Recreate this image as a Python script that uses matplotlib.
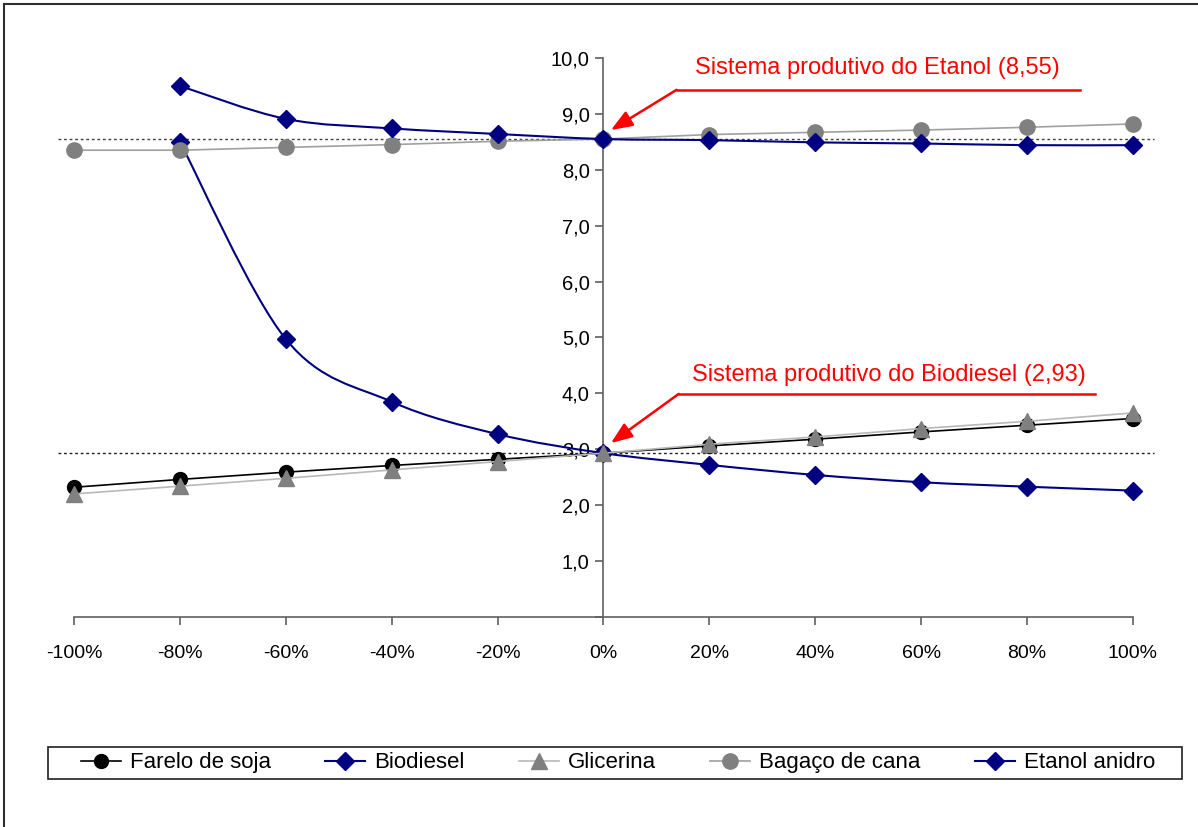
import matplotlib
matplotlib.use("Agg")
import matplotlib.pyplot as plt
from matplotlib.path import Path
from matplotlib.patches import PathPatch, Rectangle
from matplotlib.lines import Line2D
from matplotlib.ticker import FuncFormatter, MultipleLocator

# --- DATA ---
variacao = [-100, -80, -60, -40, -20, 0, 20, 40, 60, 80, 100]
farelo = [2.32, 2.46, 2.59, 2.71, 2.82, 2.93, 3.06, 3.18, 3.31, 3.43, 3.55]
biodiesel = [None, 8.50, 4.97, 3.85, 3.27, 2.93, 2.72, 2.54, 2.41, 2.33, 2.26]
glicerina = [2.20, 2.34, 2.48, 2.63, 2.78, 2.93, 3.09, 3.22, 3.37, 3.50, 3.65]
bagaco = [8.35, 8.35, 8.40, 8.45, 8.51, 8.55, 8.63, 8.67, 8.71, 8.76, 8.82]
etanol = [None, 9.50, 8.91, 8.74, 8.64, 8.55, 8.53, 8.49, 8.47, 8.44, 8.44]

ref_etanol = 8.55
ref_biodiesel = 2.93
labels = ["Farelo de soja", "Biodiesel", "Glicerina", "Bagaço de cana", "Etanol anidro"]

plt.rcParams['font.family'] = ['Liberation Sans', 'DejaVu Sans']

NAVY = "#000080"
GRAY = "#808080"


def smooth_path(xs, ys):
    # Excel-like smoothed line: cubic bezier through points (Catmull-Rom, 1/6 tension)
    pts = [(x, y) for x, y in zip(xs, ys) if y is not None]
    verts = [pts[0]]
    codes = [Path.MOVETO]
    n = len(pts)
    for i in range(n - 1):
        p0 = pts[i - 1] if i > 0 else pts[i]
        p1 = pts[i]
        p2 = pts[i + 1]
        p3 = pts[i + 2] if i + 2 < n else pts[i + 1]
        c1 = (p1[0] + (p2[0] - p0[0]) / 6, p1[1] + (p2[1] - p0[1]) / 6)
        c2 = (p2[0] - (p3[0] - p1[0]) / 6, p2[1] - (p3[1] - p1[1]) / 6)
        verts += [c1, c2, p2]
        codes += [Path.CURVE4] * 3
    return Path(verts, codes)


fig = plt.figure(figsize=(11.98, 8.27), dpi=100)
ax = fig.add_axes([0.0618, 0.254, 0.8839, 0.6759])

# reference lines
ax.plot([-103, 104], [ref_etanol, ref_etanol], ls=(0, (2, 2)), color="#404040", lw=1, clip_on=False, zorder=1)
ax.plot([-103, 104], [ref_biodiesel, ref_biodiesel], ls=(0, (2, 2)), color="#202020", lw=1, clip_on=False, zorder=1)

# Farelo de soja
ax.plot(variacao, farelo, color="black", lw=1.2, marker="o", ms=10, mfc="black", mec="black",
        clip_on=False, zorder=3)

# Biodiesel (smoothed)
ax.add_patch(PathPatch(smooth_path(variacao, biodiesel), fill=False, edgecolor=NAVY, lw=1.5, zorder=3))
xb = [x for x, y in zip(variacao, biodiesel) if y is not None]
yb = [y for y in biodiesel if y is not None]
ax.plot(xb, yb, ls="none", marker="D", ms=9, color=NAVY, clip_on=False, zorder=4)

# Glicerina
ax.plot(variacao, glicerina, color="#b8b8b8", lw=1.2, marker="^", ms=11, mfc=GRAY, mec=GRAY,
        clip_on=False, zorder=5)

# Bagaco de cana
ax.plot(variacao, bagaco, color="#a0a0a0", lw=1.2, marker="o", ms=11, mfc=GRAY, mec=GRAY,
        clip_on=False, zorder=5)

# Etanol anidro (smoothed)
ax.add_patch(PathPatch(smooth_path(variacao, etanol), fill=False, edgecolor=NAVY, lw=1.5, zorder=6))
xe = [x for x, y in zip(variacao, etanol) if y is not None]
ye = [y for y in etanol if y is not None]
ax.plot(xe, ye, ls="none", marker="D", ms=9, color=NAVY, clip_on=False, zorder=7)

# axes
ax.set_xlim(-100, 100)
ax.set_ylim(0, 10)
ax.spines['left'].set_position(('data', 0))
ax.spines['bottom'].set_position(('data', 0))
ax.spines['top'].set_visible(False)
ax.spines['right'].set_visible(False)
for s in ['left', 'bottom']:
    ax.spines[s].set_color("#606060")
    ax.spines[s].set_linewidth(1.2)
ax.xaxis.set_major_locator(MultipleLocator(20))
ax.yaxis.set_major_locator(MultipleLocator(1))
ax.xaxis.set_major_formatter(FuncFormatter(lambda v, p: "%d%%" % round(v)))
ax.yaxis.set_major_formatter(FuncFormatter(lambda v, p: "" if abs(v) < 1e-9 else ("%.1f" % v).replace(".", ",")))
ax.tick_params(axis="both", direction="out", length=6, width=1.2, color="#606060")
ax.tick_params(axis="x", pad=14, labelsize=14)
ax.tick_params(axis="y", pad=4, labelsize=14.5)

# annotations
arrow = dict(arrowstyle="-|>,head_length=1.3,head_width=0.5", color="red", lw=1.8, shrinkA=0, shrinkB=0)
ax.annotate("", xy=(1.4, 8.71), xytext=(13.8, 9.43), arrowprops=arrow, zorder=8)
ax.plot([13.8, 90.0], [9.43, 9.43], color="red", lw=1.8, clip_on=False, zorder=8)
ax.text(51.8, 9.82, "Sistema produtivo do Etanol (8,55)", color="red", fontsize=17, ha="center", va="center")

ax.annotate("", xy=(1.4, 3.11), xytext=(14.2, 3.99), arrowprops=arrow, zorder=8)
ax.plot([14.2, 92.8], [3.99, 3.99], color="red", lw=1.8, clip_on=False, zorder=8)
ax.text(53.9, 4.33, "Sistema produtivo do Biodiesel (2,93)", color="red", fontsize=17, ha="center", va="center")

# legend
handles = [
    Line2D([], [], color="black", lw=1.2, marker="o", ms=10, mfc="black", mec="black"),
    Line2D([], [], color=NAVY, lw=1.5, marker="D", ms=9, mfc=NAVY, mec=NAVY),
    Line2D([], [], color="#b8b8b8", lw=1.2, marker="^", ms=11, mfc=GRAY, mec=GRAY),
    Line2D([], [], color="#a0a0a0", lw=1.2, marker="o", ms=11, mfc=GRAY, mec=GRAY),
    Line2D([], [], color=NAVY, lw=1.5, marker="D", ms=9, mfc=NAVY, mec=NAVY),
]
fig.legend(handles, labels, loc="center", bbox_to_anchor=(0.5159, 0.0774), ncol=5,
           fontsize=16, frameon=False, handlelength=1.8, handletextpad=0.4, columnspacing=2.45)
fig.add_artist(Rectangle((48 / 1198, 1 - 779 / 827), (1182 - 48) / 1198, 32 / 827,
                         transform=fig.transFigure, fill=False, edgecolor="#202020", lw=1.2))

# outer figure border (top and left)
fig.add_artist(Line2D([4 / 1198, 1.0], [1 - 4 / 827, 1 - 4 / 827], transform=fig.transFigure,
                      color="#303030", lw=1.5))
fig.add_artist(Line2D([4 / 1198, 4 / 1198], [0.0, 1 - 4 / 827], transform=fig.transFigure,
                      color="#303030", lw=1.5))

fig.savefig("out.png", dpi=100)
